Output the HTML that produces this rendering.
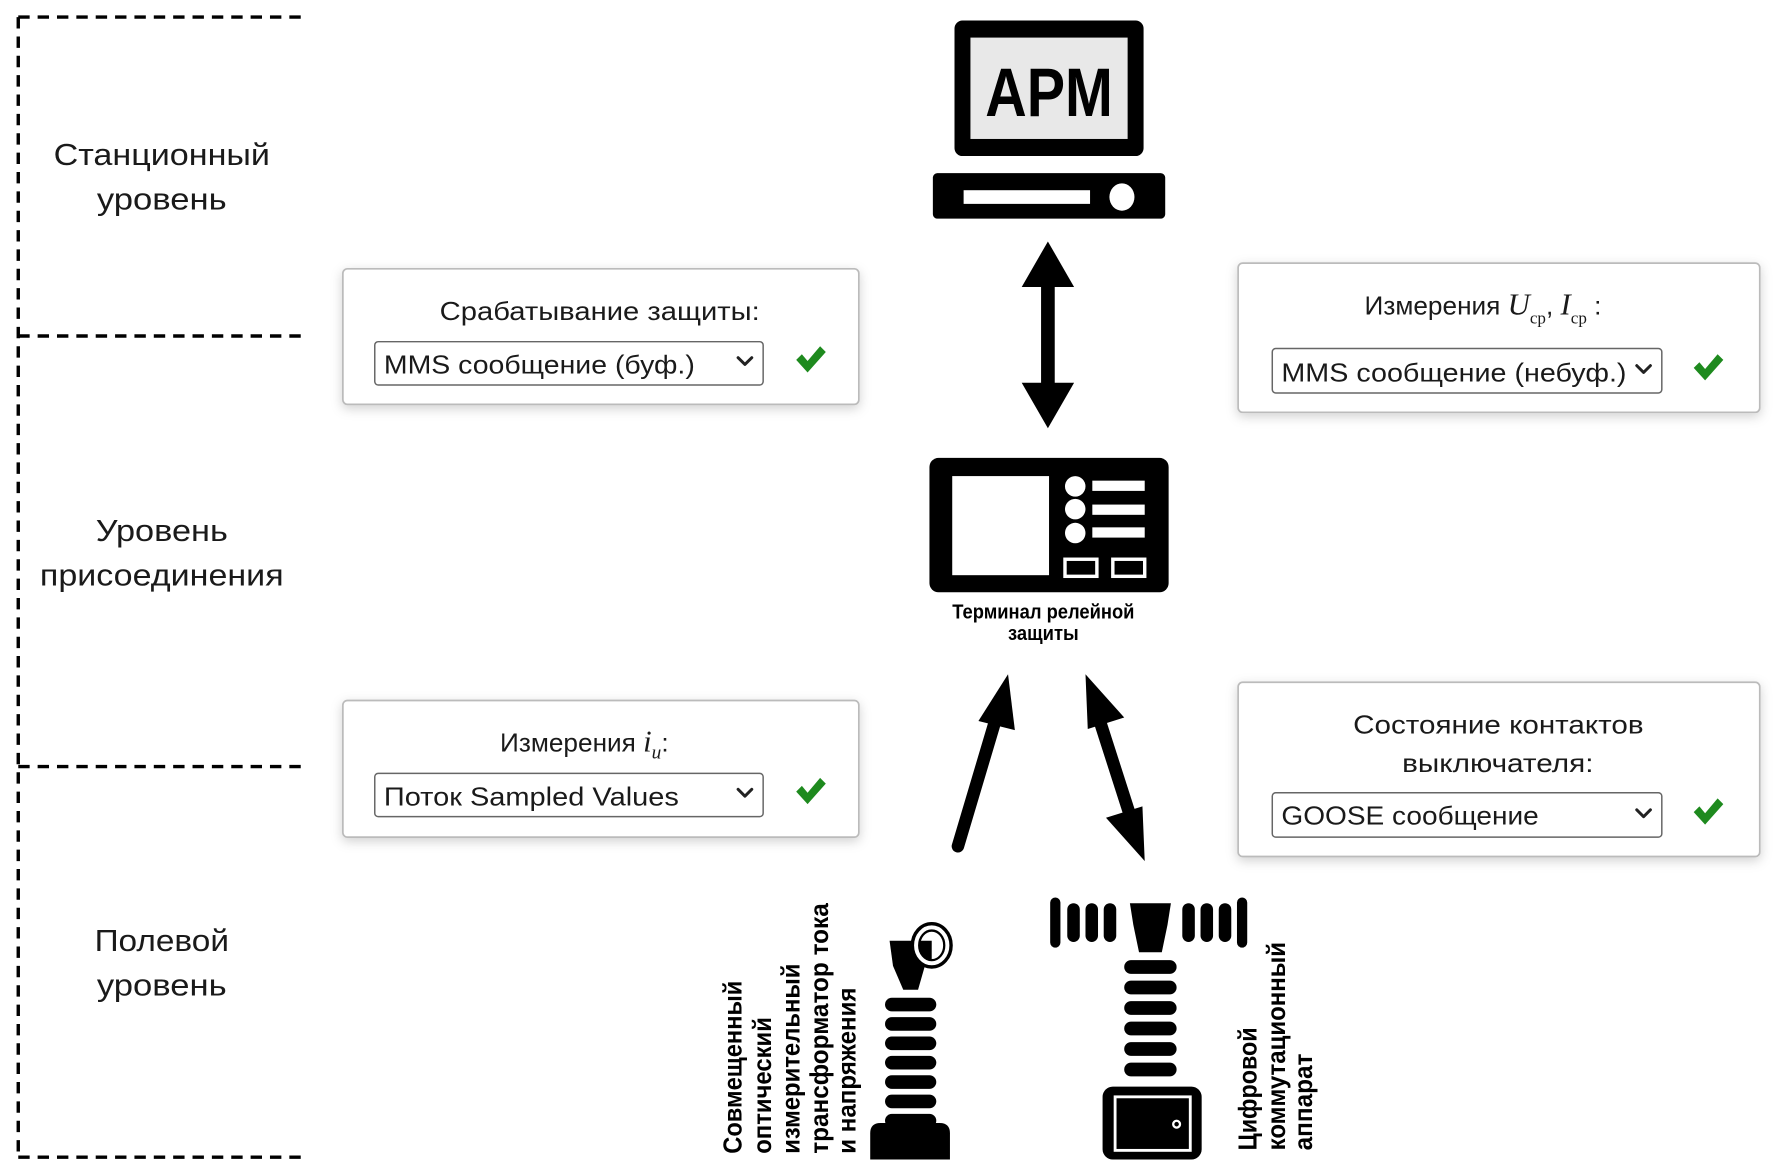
<!DOCTYPE html>
<html><head><meta charset="utf-8"><style>
html,body{margin:0;padding:0;background:#fff;}
svg{display:block;}
.t{font-family:"Liberation Sans","DejaVu Sans",sans-serif;fill:#1a1a1a;}
.c{font-family:"Liberation Sans","DejaVu Sans",sans-serif;font-weight:bold;fill:#000;}
.m{font-family:"Liberation Serif",serif;font-style:italic;}
.r{font-family:"Liberation Serif",serif;}
</style></head><body>
<svg width="1786" height="1176" viewBox="0 0 1568 1032.5" xmlns="http://www.w3.org/2000/svg">
<defs>
<filter id="sh" x="-10%" y="-20%" width="120%" height="150%"><feDropShadow dx="0" dy="3" stdDeviation="5" flood-color="#000" flood-opacity="0.18"/></filter>
</defs>
<g stroke="#000" stroke-width="3" fill="none" stroke-dasharray="10 7">
<line x1="16" y1="15" x2="16" y2="1016"/>
<line x1="16" y1="15" x2="270" y2="15"/>
<line x1="16" y1="295" x2="270" y2="295"/>
<line x1="16" y1="673" x2="270" y2="673"/>
<line x1="16" y1="1016" x2="270" y2="1016"/>
</g>
<g class="t" font-size="27" text-anchor="middle" lengthAdjust="spacingAndGlyphs">
<text x="142" y="145" textLength="190" lengthAdjust="spacingAndGlyphs">Станционный</text><text x="142" y="184" textLength="114" lengthAdjust="spacingAndGlyphs">уровень</text>
<text x="142" y="475" textLength="116" lengthAdjust="spacingAndGlyphs">Уровень</text><text x="142" y="514" textLength="214" lengthAdjust="spacingAndGlyphs">присоединения</text>
<text x="142" y="835" textLength="118" lengthAdjust="spacingAndGlyphs">Полевой</text><text x="142" y="874" textLength="114" lengthAdjust="spacingAndGlyphs">уровень</text>
</g>
<g fill="#fff" stroke="#bbb" stroke-width="1.5" filter="url(#sh)">
<rect x="301" y="236" width="453" height="119" rx="4"/>
<rect x="1087" y="231" width="458" height="131" rx="4"/>
<rect x="301" y="615" width="453" height="120" rx="4"/>
<rect x="1087" y="599" width="458" height="153" rx="4"/>
</g>
<g fill="#fff" stroke="#666" stroke-width="1.3">
<rect x="329" y="300" width="341" height="38" rx="3"/>
<rect x="1117" y="306" width="342" height="39" rx="3"/>
<rect x="329" y="679" width="341" height="38" rx="3"/>
<rect x="1117" y="696" width="342" height="39" rx="3"/>
</g>
<g class="t" font-size="23">
<text x="386" y="281" textLength="281" lengthAdjust="spacingAndGlyphs">Срабатывание защиты:</text>
<text x="337" y="328" textLength="273" lengthAdjust="spacingAndGlyphs">MMS сообщение (буф.)</text>
<text x="1198" y="276">Измерения <tspan class="m" font-size="27">U</tspan><tspan class="r" font-size="15" dy="8">ср</tspan><tspan dy="-8">, </tspan><tspan class="m" font-size="27">I</tspan><tspan class="r" font-size="15" dy="8">ср</tspan><tspan dy="-8"> :</tspan></text>
<text x="1125" y="335" textLength="303" lengthAdjust="spacingAndGlyphs">MMS сообщение (небуф.)</text>
<text x="439" y="660">Измерения <tspan class="m" font-size="27">i</tspan><tspan class="m" font-size="17" dy="6">u</tspan><tspan dy="-6">:</tspan></text>
<text x="337" y="707" textLength="259" lengthAdjust="spacingAndGlyphs">Поток Sampled Values</text>
<text x="1188" y="644" textLength="255" lengthAdjust="spacingAndGlyphs">Состояние контактов</text>
<text x="1231" y="678" textLength="168" lengthAdjust="spacingAndGlyphs">выключателя:</text>
<text x="1125" y="724" textLength="226" lengthAdjust="spacingAndGlyphs">GOOSE сообщение</text>
</g>
<g stroke="#222" stroke-width="2.6" fill="none" stroke-linecap="round" stroke-linejoin="round">
<path d="M648 314 l6 6 l6 -6"/><path d="M1437 321 l6 6 l6 -6"/>
<path d="M648 693 l6 6 l6 -6"/><path d="M1437 711 l6 6 l6 -6"/>
</g>
<g fill="#1e8a1e">
<path d="M699 316 l5 -5 l5 6 l11 -13 l5 5 l-16 18 z"/>
<path d="M1487 323 l5 -5 l5 6 l11 -13 l5 5 l-16 18 z"/>
<path d="M699 695 l5 -5 l5 6 l11 -13 l5 5 l-16 18 z"/>
<path d="M1487 713 l5 -5 l5 6 l11 -13 l5 5 l-16 18 z"/>
</g>
<rect x="838" y="18" width="166" height="119" rx="7" fill="#000"/>
<rect x="852" y="33" width="138" height="89" fill="#e8e8e8"/>
<text class="c" x="921" y="102" font-size="60" text-anchor="middle" textLength="112" lengthAdjust="spacingAndGlyphs">APM</text>
<rect x="819" y="152" width="204" height="40" rx="4" fill="#000"/>
<rect x="846" y="167" width="111" height="12" fill="#fff"/>
<ellipse cx="985" cy="173" rx="11" ry="12" fill="#fff"/>
<rect x="914" y="250" width="12" height="90" fill="#000"/>
<polygon points="920,212 897,252 943,252" fill="#000"/>
<polygon points="920,376 897,336 943,336" fill="#000"/>
<rect x="816" y="402" width="210" height="118" rx="8" fill="#000"/>
<rect x="836" y="418" width="85" height="87" fill="#fff"/>
<g fill="#fff">
<ellipse cx="944" cy="427" rx="9" ry="9"/><ellipse cx="944" cy="447" rx="9" ry="9"/><ellipse cx="944" cy="468" rx="9" ry="9"/>
<rect x="959" y="422" width="46" height="9"/><rect x="959" y="443" width="46" height="9"/><rect x="959" y="463" width="46" height="9"/>
</g>
<g fill="none" stroke="#fff" stroke-width="3">
<rect x="935" y="491" width="28" height="15"/><rect x="977" y="491" width="28" height="15"/>
</g>
<text class="c" x="916" y="543" font-size="18" text-anchor="middle" textLength="160" lengthAdjust="spacingAndGlyphs">Терминал релейной</text>
<text class="c" x="916" y="562" font-size="18" text-anchor="middle" textLength="62" lengthAdjust="spacingAndGlyphs">защиты</text>
<line x1="841" y1="743" x2="877" y2="622" stroke="#000" stroke-width="11" stroke-linecap="round"/>
<polygon points="885,592 891,641 859,633" fill="#000"/>
<line x1="962" y1="622" x2="996" y2="728" stroke="#000" stroke-width="11"/>
<polygon points="953,592 987,630 955,640" fill="#000"/>
<polygon points="1005,756 971,718 1003,708" fill="#000"/>
<g fill="#000">
<polygon points="781,826 814,826 812,848 806,869 793,869 784,848"/>
<rect x="777" y="876" width="45" height="12" rx="6"/>
<rect x="777" y="893" width="45" height="12" rx="6"/>
<rect x="777" y="910" width="45" height="12" rx="6"/>
<rect x="777" y="927" width="45" height="12" rx="6"/>
<rect x="777" y="944" width="45" height="12" rx="6"/>
<rect x="777" y="961" width="45" height="12" rx="6"/>
<rect x="777" y="978" width="45" height="12" rx="6"/>
<path d="M764 1018 V995 Q764 986 773 986 H825 Q834 986 834 995 V1018 Z"/>
</g>
<ellipse cx="818" cy="830" rx="17" ry="19" fill="#fff" stroke="#000" stroke-width="3"/>
<ellipse cx="818" cy="830" rx="11" ry="13" fill="#fff" stroke="#000" stroke-width="2"/>
<path d="M807 826 H818 V843 A11 13 0 0 1 807 830 Z" fill="#000"/>
<g class="c" font-size="23" transform="rotate(-90)">
<text x="-1013" y="651" textLength="152" lengthAdjust="spacingAndGlyphs">Совмещенный</text>
<text x="-1013" y="677" textLength="120" lengthAdjust="spacingAndGlyphs">оптический</text>
<text x="-1013" y="702" textLength="167" lengthAdjust="spacingAndGlyphs">измерительный</text>
<text x="-1013" y="727" textLength="220" lengthAdjust="spacingAndGlyphs">трансформатор тока</text>
<text x="-1013" y="751" textLength="146" lengthAdjust="spacingAndGlyphs">и напряжения</text>
<text x="-1010" y="1103" textLength="108" lengthAdjust="spacingAndGlyphs">Цифровой</text>
<text x="-1010" y="1128" textLength="183" lengthAdjust="spacingAndGlyphs">коммутационный</text>
<text x="-1010" y="1152" textLength="85" lengthAdjust="spacingAndGlyphs">аппарат</text>
</g>
<g fill="#000">
<rect x="922" y="788" width="9" height="44" rx="4.5"/>
<rect x="937" y="793" width="11" height="34" rx="5.5"/>
<rect x="953" y="793" width="11" height="34" rx="5.5"/>
<rect x="969" y="793" width="11" height="34" rx="5.5"/>
<rect x="1038" y="793" width="11" height="34" rx="5.5"/>
<rect x="1054" y="793" width="11" height="34" rx="5.5"/>
<rect x="1070" y="793" width="11" height="34" rx="5.5"/>
<rect x="1086" y="788" width="9" height="44" rx="4.5"/>
<polygon points="992,793 1028,793 1025,812 1020,836 1000,836 995,812"/>
<rect x="987" y="843" width="46" height="12" rx="6"/>
<rect x="987" y="861" width="46" height="12" rx="6"/>
<rect x="987" y="879" width="46" height="12" rx="6"/>
<rect x="987" y="897" width="46" height="12" rx="6"/>
<rect x="987" y="915" width="46" height="12" rx="6"/>
<rect x="987" y="933" width="46" height="12" rx="6"/>
<rect x="968" y="954" width="87" height="64" rx="9"/>
</g>
<rect x="979" y="963" width="66" height="47" fill="none" stroke="#fff" stroke-width="2.5"/>
<circle cx="1033" cy="987" r="3" fill="none" stroke="#fff" stroke-width="2"/>
</svg>
</body></html>
